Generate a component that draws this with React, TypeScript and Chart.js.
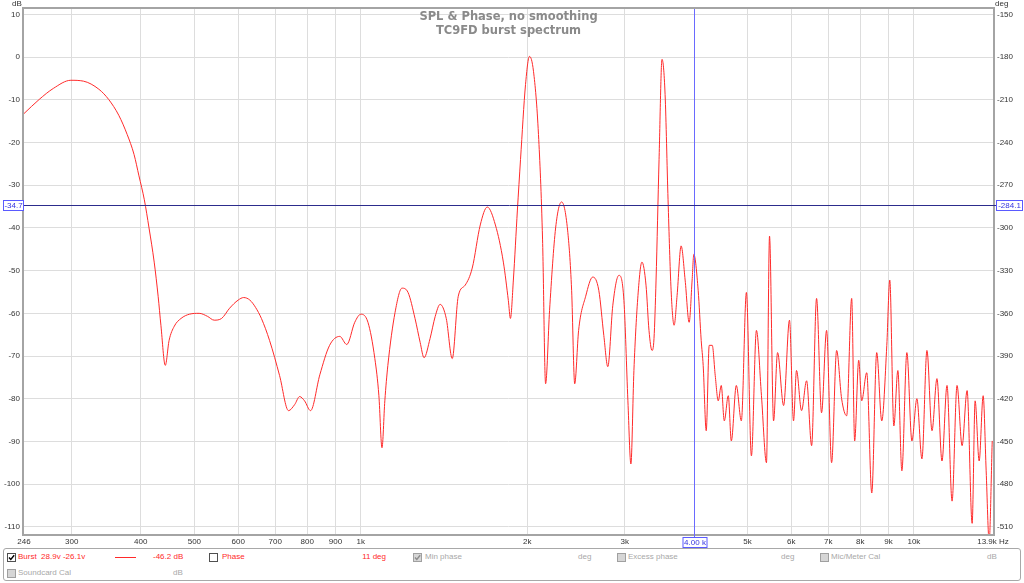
import React, { useEffect, useRef } from "react";
import { Chart, registerables } from "chart.js";

Chart.register(...registerables);

// ---------- data ----------
const freqHz = [
  246, 262, 278, 299, 315, 336, 350, 365, 378, 389, 397, 406, 414, 423, 430, 435, 443, 450, 460, 473,
  490, 510, 528, 543, 560, 579, 600, 614, 630, 645, 661, 684, 713, 740, 759, 775, 791, 811, 843, 878, 916,
  943, 975, 1000, 1030, 1060, 1078, 1092, 1105, 1119, 1153, 1187, 1217, 1253, 1280, 1301, 1334, 1363, 1391, 1427, 1463,
  1500, 1544, 1590, 1644, 1693, 1751, 1810, 1848, 1864, 1887, 1919, 1944, 1985, 2018, 2052, 2095, 2131, 2158, 2194, 2250,
  2307, 2365, 2405, 2436, 2476, 2550, 2626, 2693, 2750, 2796, 2855, 2928, 2990, 3040, 3078, 3117, 3170, 3223, 3278, 3319,
  3361, 3389, 3418, 3461, 3504, 3549, 3593, 3639, 3685, 3731, 3794, 3858, 3923, 3972, 4000, 4073, 4125, 4159, 4212, 4265,
  4319, 4373, 4428, 4484, 4541, 4617, 4676, 4774, 4875, 4979, 5084, 5191, 5301, 5413, 5482, 5575, 5669, 5813, 5957, 6058,
  6134, 6264, 6397, 6532, 6668, 6808, 6952, 7099, 7249, 7401, 7558, 7718, 7814, 7947, 8046, 8217, 8391, 8566, 8747, 8933,
  9044, 9198, 9354, 9511, 9712, 9917, 10125, 10340, 10558, 10782, 11007, 11240, 11478, 11722, 11967, 12221, 12479, 12744, 12903, 13122,
  13342, 13510, 13680, 13855,
];

const splDb = [
  -13.2, -9.9, -7.3, -5.4, -5.6, -7.5, -9.9, -13.6, -18.1, -22.8, -27.8, -33.4, -40.0, -48.0, -56.0, -62.8, -72.2, -66.4, -63.0, -61.2,
  -60.2, -60.0, -60.7, -61.6, -61.2, -58.8, -56.9, -56.3, -56.9, -58.6, -61.2, -66.4, -74.6, -82.8, -81.4, -79.5, -80.5, -82.8, -74.4, -67.5, -65.4,
  -67.3, -62.1, -60.2, -62.1, -70.6, -79.3, -91.5, -80.5, -72.2, -59.8, -54.1, -55.1, -61.2, -66.8, -70.4, -65.9, -60.7, -57.9, -61.2, -70.6,
  -56.0, -53.4, -49.4, -39.3, -35.1, -39.3, -48.0, -57.0, -61.2, -52.2, -35.8, -24.0, -6.4, 0.2, -3.3, -18.1, -42.8, -76.5, -59.3, -40.0,
  -33.9, -40.5, -54.6, -76.5, -64.0, -56.0, -51.5, -54.6, -65.2, -72.5, -58.1, -51.1, -57.0, -80.5, -95.3, -73.4, -55.8, -48.0, -53.4, -64.0,
  -68.7, -65.9, -52.2, -24.0, -0.5, -8.7, -33.4, -54.6, -62.8, -55.8, -44.2, -52.2, -62.1, -52.2, -46.2, -54.6, -66.4, -72.2, -87.5, -67.5,
  -67.5, -74.6, -80.5, -76.9, -85.2, -79.3, -89.9, -76.9, -85.2, -55.1, -93.4, -64.0, -79.3, -95.0, -41.9, -85.2, -69.2, -81.6, -61.6, -85.2,
  -73.4, -82.8, -75.8, -91.0, -56.5, -83.3, -64.0, -95.0, -68.7, -80.0, -84.0, -56.5, -89.9, -71.0, -80.5, -73.9, -102.1, -69.2, -85.2, -67.5,
  -52.2, -86.4, -73.4, -96.9, -69.2, -89.9, -80.0, -94.1, -68.7, -87.5, -75.3, -94.6, -76.9, -104.0, -76.9, -91.0, -78.1, -109.2, -80.5, -94.6,
  -79.3, -96.9, -113.4, -89.9,
];

const xTickValues = [246, 300, 400, 500, 600, 700, 800, 900, 1000, 2000, 3000, 5000, 6000, 7000, 8000, 9000, 10000, 13900];
const xTickLabels = ["246", "300", "400", "500", "600", "700", "800", "900", "1k", "2k", "3k", "5k", "6k", "7k", "8k", "9k", "10k", "13.9k Hz"];
const dbTicks = [10, 0, -10, -20, -30, -40, -50, -60, -70, -80, -90, -100, -110];
const degTicks = [-150, -180, -210, -240, -270, -300, -330, -360, -390, -420, -450, -480, -510];

const X_MIN = 246;
const X_MAX = 13900;
const DB_MIN = -111.7;
const DB_MAX = 11.3;
const DEG_MIN = -515.1;
const DEG_MAX = -146.1;

const CURSOR_FREQ = 4000;
const CURSOR_DB = -34.7;
const CURSOR_DEG = -284.1;
const CURSOR_SPL = -46.2;
const PHASE_DEG = 11;

const TITLE_LINES = ["SPL & Phase, no smoothing", "TC9FD burst spectrum"];

const RED = "#ff2a2a";
const GRAY_TXT = "#a8a8a8";
const FONT = '"Liberation Sans", Arial, sans-serif';

const overlayPlugin = {
  id: "overlay",
  afterDraw(chart: any) {
    const { ctx, chartArea: a, scales } = chart;
    ctx.save();
    // frame
    ctx.strokeStyle = "#a4a4a4";
    ctx.lineWidth = 2;
    ctx.strokeRect(a.left - 1, a.top - 1, a.right - a.left + 2, a.bottom - a.top + 2);

    // title
    ctx.fillStyle = "#8a8a8a";
    ctx.font = 'bold 11.5px "DejaVu Sans", sans-serif';
    ctx.textAlign = "center";
    ctx.textBaseline = "middle";
    const mid = (a.left + a.right) / 2;
    ctx.fillText(TITLE_LINES[0], mid, 17);
    ctx.fillText(TITLE_LINES[1], mid, 31);

    // unit labels
    ctx.fillStyle = "#333";
    ctx.font = `8px ${FONT}`;
    ctx.textAlign = "left";
    ctx.fillText("dB", 12, 4);
    ctx.fillText("deg", 995, 4);

    // vertical cursor
    const cx = Math.round(scales.x.getPixelForValue(CURSOR_FREQ)) + 0.5;
    ctx.strokeStyle = "#6a6aff";
    ctx.lineWidth = 1;
    ctx.beginPath();
    ctx.moveTo(cx, a.top);
    ctx.lineTo(cx, a.bottom + 4);
    ctx.stroke();

    // horizontal cursor
    const cy = Math.round(scales.y.getPixelForValue(CURSOR_DB)) + 0.5;
    ctx.strokeStyle = "#2c2c8c";
    ctx.beginPath();
    ctx.moveTo(a.left - 1, cy);
    ctx.lineTo(a.right + 3, cy);
    ctx.stroke();

    const box = (text: string, x: number, y: number, w: number) => {
      ctx.fillStyle = "#fff";
      ctx.fillRect(x, y, w, 11);
      ctx.strokeStyle = "#5a5aff";
      ctx.strokeRect(x + 0.5, y + 0.5, w - 1, 10);
      ctx.fillStyle = "#3434e0";
      ctx.font = `8px ${FONT}`;
      ctx.textBaseline = "middle";
      ctx.textAlign = "center";
      ctx.fillText(text, x + w / 2, y + 6);
    };
    box((CURSOR_FREQ / 1000).toFixed(2) + " k", cx - 12, a.bottom + 3, 25);
    box(CURSOR_DB.toFixed(1), 3, cy - 5.5, 21);
    box(CURSOR_DEG.toFixed(1), a.right + 3, cy - 5.5, 27);
    ctx.restore();
  },
};

function CheckBox({ x, y, checked, disabled }: { x: number; y: number; checked?: boolean; disabled?: boolean }) {
  return (
    <div
      style={{
        position: "absolute",
        left: x,
        top: y,
        width: 9,
        height: 9,
        boxSizing: "border-box",
        border: `1px solid ${disabled ? "#a0a0a0" : "#505050"}`,
        background: disabled ? "#d6d6d6" : "#fff",
      }}
    >
      {checked && (
        <svg width="7" height="7" style={{ position: "absolute", left: 0, top: 0 }}>
          <polyline points="1,3.5 2.8,5.5 6.2,1.2" fill="none" stroke={disabled ? "#8c8c8c" : "#000"} strokeWidth="1.4" />
        </svg>
      )}
    </div>
  );
}

function Txt({ x, y, color, children, right }: { x: number; y: number; color: string; children: React.ReactNode; right?: boolean }) {
  const style: React.CSSProperties = {
    position: "absolute",
    top: y - 5,
    height: 10,
    lineHeight: "10px",
    fontSize: 8,
    fontFamily: FONT,
    color,
    whiteSpace: "pre",
  };
  if (right) style.right = 1024 - x;
  else style.left = x;
  return <div style={style}>{children}</div>;
}

export default function App() {
  const ref = useRef<HTMLCanvasElement | null>(null);

  useEffect(() => {
    if (!ref.current) return;
    const points = freqHz.map((f, i) => ({ x: f, y: splDb[i] }));
    const tickFont = { family: FONT, size: 8 };
    const chart = new Chart(ref.current, {
      type: "line",
      data: {
        datasets: [
          {
            label: "Burst",
            data: points,
            borderColor: RED,
            borderWidth: 1,
            pointRadius: 0,
            cubicInterpolationMode: "monotone",
            yAxisID: "y",
          },
        ],
      },
      options: {
        animation: false,
        responsive: false,
        maintainAspectRatio: false,
        events: [],
        layout: { padding: { top: 9, left: 0, right: 0, bottom: 0 } },
        plugins: { legend: { display: false }, tooltip: { enabled: false }, title: { display: false } },
        scales: {
          x: {
            type: "logarithmic",
            min: X_MIN,
            max: X_MAX,
            afterBuildTicks: (s: any) => {
              s.ticks = xTickValues.map((v) => ({ value: v }));
            },
            afterFit: (s: any) => {
              s.height = 14;
            },
            ticks: {
              autoSkip: false,
              maxRotation: 0,
              minRotation: 0,
              padding: 3,
              color: "#333",
              font: tickFont,
              callback: (v: any) => xTickLabels[xTickValues.indexOf(Number(v))],
            },
            grid: {
              drawTicks: false,
              color: (c: any) => (c.tick && (c.tick.value === X_MIN || c.tick.value === X_MAX) ? "rgba(0,0,0,0)" : "#dddddd"),
            },
            border: { display: false },
          },
          y: {
            position: "left",
            min: DB_MIN,
            max: DB_MAX,
            afterBuildTicks: (s: any) => {
              s.ticks = dbTicks.map((v) => ({ value: v }));
            },
            afterFit: (s: any) => {
              s.width = 24;
            },
            ticks: { padding: 4, color: "#333", font: tickFont, callback: (v: any) => String(v) },
            grid: { drawTicks: false, color: "#dddddd" },
            border: { display: false },
          },
          y1: {
            position: "right",
            min: DEG_MIN,
            max: DEG_MAX,
            afterBuildTicks: (s: any) => {
              s.ticks = degTicks.map((v) => ({ value: v }));
            },
            afterFit: (s: any) => {
              s.width = 31;
            },
            ticks: { padding: 4, color: "#333", font: tickFont, callback: (v: any) => String(v) },
            grid: { display: false, drawTicks: false },
            border: { display: false },
          },
        },
      },
      plugins: [overlayPlugin],
    } as any);
    return () => chart.destroy();
  }, []);

  return (
    <div style={{ position: "fixed", left: 0, top: 0, width: 1024, height: 583, background: "#fff", overflow: "hidden" }}>
      <canvas ref={ref} width={1024} height={548} style={{ position: "absolute", left: 0, top: 0, width: 1024, height: 548 }} />
      <div
        style={{
          position: "absolute",
          left: 3,
          top: 548,
          width: 1018,
          height: 33,
          boxSizing: "border-box",
          border: "1px solid #a8a8a8",
          borderRadius: 3,
        }}
      />
      <CheckBox x={7} y={553} checked />
      <Txt x={18} y={557} color={RED}>{"Burst  28.9v -26.1v"}</Txt>
      <div style={{ position: "absolute", left: 115, top: 557, width: 21, height: 1, background: RED }} />
      <Txt x={153} y={557} color={RED}>{CURSOR_SPL.toFixed(1) + " dB"}</Txt>
      <CheckBox x={209} y={553} />
      <Txt x={222} y={557} color={RED}>Phase</Txt>
      <Txt x={386} y={557} color={RED} right>{PHASE_DEG + " deg"}</Txt>
      <CheckBox x={413} y={553} checked disabled />
      <Txt x={425} y={557} color={GRAY_TXT}>Min phase</Txt>
      <Txt x={578} y={557} color={GRAY_TXT}>deg</Txt>
      <CheckBox x={617} y={553} disabled />
      <Txt x={628} y={557} color={GRAY_TXT}>Excess phase</Txt>
      <Txt x={781} y={557} color={GRAY_TXT}>deg</Txt>
      <CheckBox x={820} y={553} disabled />
      <Txt x={831} y={557} color={GRAY_TXT}>Mic/Meter Cal</Txt>
      <Txt x={987} y={557} color={GRAY_TXT}>dB</Txt>
      <CheckBox x={7} y={569} disabled />
      <Txt x={18} y={573} color={GRAY_TXT}>Soundcard Cal</Txt>
      <Txt x={173} y={573} color={GRAY_TXT}>dB</Txt>
    </div>
  );
}
